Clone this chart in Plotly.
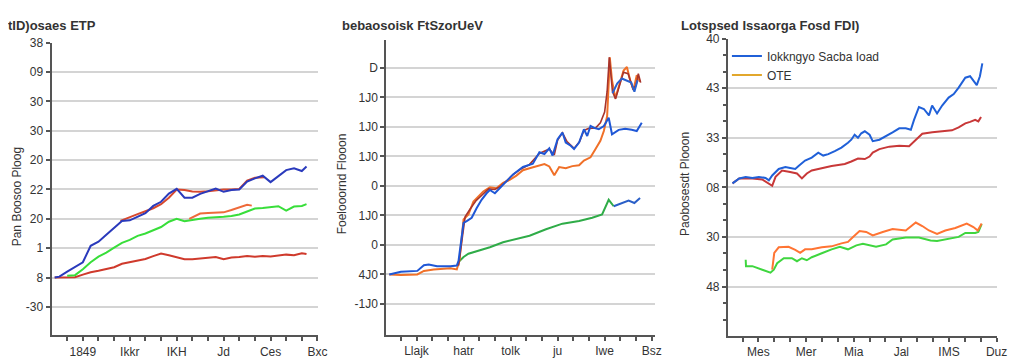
import plotly.graph_objects as go

W, H = 1024, 359

# ---------------- Panel 1 data ----------------
p1_x = [0.2, 0.5, 1.0, 1.5, 2.0, 2.5, 3.0, 3.5, 4.0, 4.5, 5.0, 5.5, 6.0, 6.5, 7.0, 7.5, 8.0, 8.5,
        9.0, 9.5, 10.0, 10.5, 11.0, 11.5, 12.0, 12.5, 13.0, 13.5, 14.0, 14.5, 15.0, 15.5, 16.0, 16.3]
p1_blue = [0, 0.03, 0.2, 0.37, 0.52, 1.08, 1.22, 1.46, 1.7, 1.93, 1.95, 2.08, 2.19, 2.44, 2.58, 2.86, 3.02, 2.72,
           2.72, 2.85, 2.94, 3.03, 2.92, 2.98, 3.0, 3.27, 3.38, 3.47, 3.25, 3.47, 3.66, 3.72, 3.63, 3.78]
p1_red_low = [0, 0, 0, 0.01, 0.1, 0.18, 0.23, 0.28, 0.35, 0.47, 0.53, 0.58, 0.63, 0.73, 0.82, 0.76, 0.7, 0.62,
              0.62, 0.65, 0.67, 0.7, 0.62, 0.68, 0.7, 0.73, 0.71, 0.73, 0.72, 0.76, 0.78, 0.76, 0.83, 0.8]
p1_green_x = [1.0, 1.5, 2.0, 2.5, 3.0, 3.5, 4.0, 4.5, 5.0, 5.5, 6.0, 6.5, 7.0, 7.5, 8.0, 8.5,
              9.0, 9.5, 10.0, 10.5, 11.0, 11.5, 12.0, 12.5, 13.0, 13.5, 14.0, 14.5, 15.0, 15.5, 16.0, 16.3]
p1_green = [0.06, 0.08, 0.28, 0.52, 0.71, 0.85, 1.02, 1.18, 1.28, 1.42, 1.5, 1.62, 1.72, 1.9, 2.0, 1.92,
            1.95, 2.0, 2.04, 2.05, 2.07, 2.1, 2.15, 2.25, 2.35, 2.37, 2.4, 2.43, 2.28, 2.42, 2.44, 2.5]
p1_red_up_x = [4.4, 5.0, 5.5, 6.0, 6.5, 7.0, 7.5, 8.0, 8.5, 9.0, 9.5, 10.0, 10.5, 11.0, 11.5, 12.0, 12.5, 13.0, 13.6]
p1_red_up = [1.93, 2.07, 2.16, 2.26, 2.36, 2.5, 2.72, 3.0, 2.98, 2.93, 2.92, 2.94, 2.98, 3.0, 3.0, 3.02, 3.3, 3.4, 3.42]
p1_orange_x = [8.8, 9.5, 10.0, 10.5, 11.0, 11.5, 12.0, 12.5, 12.8]
p1_orange = [2.0, 2.18, 2.2, 2.2, 2.22, 2.3, 2.38, 2.48, 2.45]

p1_yticks = ["-30", "8", "1", "20", "22", "20", "30", "30", "09", "38"]
p1_xticks = ["1849", "Ikkr", "IKH", "Jd", "Ces", "Bxc"]

# ---------------- Panel 2 data ----------------
p2_blue_x = [0.26, 1.0, 2.05, 2.47, 2.78, 3.31, 4.16, 4.57, 4.68, 5.0, 5.2, 5.52, 5.84, 6.15, 6.47,
             6.68, 7.0, 7.3, 7.73, 8.16, 8.79, 9.42, 9.84, 10.16, 10.47, 10.68, 11.0, 11.31, 11.52, 11.84,
             12.05, 12.37, 12.68, 12.89, 13.1, 13.31, 13.63, 13.95, 14.26, 14.47, 14.9, 15.31, 15.73, 16.05, 16.37]
p2_blue = [0, 0.09, 0.12, 0.31, 0.34, 0.28, 0.28, 0.3, 0.46, 1.75, 1.81, 1.92, 2.25, 2.53, 2.75,
           2.86, 2.75, 2.92, 3.14, 3.39, 3.64, 3.75, 4.14, 4.08, 4.27, 4.03, 4.58, 4.81, 4.47, 4.36,
           4.25, 4.47, 4.92, 4.69, 5.03, 4.97, 4.92, 5.03, 5.31, 4.75, 4.9, 4.94, 4.9, 4.86, 5.14]
p2_orange_x = [0.26, 1.0, 2.05, 2.47, 3.1, 4.16, 4.57, 4.74, 5.0, 5.31, 5.63, 5.94, 6.26, 6.68, 7.1,
               7.52, 7.94, 8.37, 8.79, 9.21, 9.84, 10.16, 10.47, 10.79, 11.1, 11.52, 11.94, 12.37, 12.68, 13.1,
               13.42, 13.73, 13.95, 14.16, 14.26, 14.33, 14.47, 14.68, 14.9, 15.21, 15.42, 15.63, 15.84, 16.05, 16.26]
p2_orange = [0, -0.02, 0, 0.12, 0.17, 0.21, 0.17, 0.48, 1.86, 2.03, 2.47, 2.64, 2.81, 2.95, 2.92,
             3.1, 3.2, 3.35, 3.53, 3.6, 3.7, 3.74, 3.66, 3.36, 3.64, 3.6, 3.67, 3.7, 3.86, 3.97,
             4.25, 4.53, 4.86, 5.36, 6.47, 7.36, 6.58, 5.97, 6.36, 6.91, 7.03, 6.58, 6.25, 6.75, 6.53]
p2_red_x = [4.68, 4.9, 5.1, 5.4, 5.8, 6.2, 6.6, 7.0, 7.4, 7.8, 8.2, 8.6, 9.2, 9.84, 10.47, 10.79, 11.0, 11.31,
            11.6, 12.05, 12.4, 12.68, 13.0, 13.42, 13.73, 14.0, 14.16, 14.3, 14.5, 14.7, 15.0, 15.2, 15.5,
            15.8, 16.0, 16.15, 16.3]
p2_red = [0.3, 1.2, 1.95, 2.2, 2.5, 2.7, 2.9, 2.88, 3.0, 3.2, 3.4, 3.55, 3.72, 4.1, 4.25, 4.05, 4.55, 4.8,
          4.5, 4.27, 4.5, 4.88, 4.95, 4.96, 5.14, 5.5, 6.2, 7.36, 6.2, 5.95, 6.5, 6.85, 6.8,
          6.3, 6.4, 6.8, 6.5]
p2_blue2_x = [14.5, 14.8, 15.1, 15.4, 15.7, 15.9, 16.1]
p2_blue2 = [6.14, 6.47, 6.64, 6.58, 6.5, 6.19, 6.58]
p2_green_x = [4.68, 5.0, 5.31, 6.05, 6.68, 7.52, 8.36, 8.79, 9.21, 10.26, 11.31, 12.37, 13.21, 13.84, 14.26, 14.58]
p2_green = [0.42, 0.59, 0.7, 0.81, 0.92, 1.09, 1.2, 1.28, 1.31, 1.53, 1.72, 1.81, 1.92, 2.03, 2.53, 2.31]
p2_tail_x = [14.58, 15.0, 15.53, 15.9, 16.26]
p2_tail = [2.31, 2.4, 2.5, 2.42, 2.59]

p2_yticks = ["-1J0", "4J0", "0", "1J0", "0", "1J0", "1J0", "1J0", "D", "1I0"]
p2_xticks = ["Llajk", "hatr", "tolk", "ju", "Iwe", "Bsz"]

# ---------------- Panel 3 data ----------------
p3_blue_x = [0.37, 0.79, 1.2, 1.62, 2.03, 2.45, 2.66, 2.87, 3.28, 3.7, 4.0, 4.32, 4.53, 4.94, 5.36,
             5.77, 6.08, 6.4, 6.81, 7.23, 7.64, 7.85, 8.06, 8.27, 8.48, 8.7, 9.0, 9.2, 9.62, 10.04,
             10.45, 10.87, 11.28, 11.6, 11.8, 12.11, 12.42, 12.74, 12.94, 13.25, 13.57, 13.98, 14.3, 14.61, 15.03,
             15.33, 15.54, 15.75, 15.95, 16.1]
p3_blue = [2.08, 2.18, 2.21, 2.19, 2.21, 2.19, 2.14, 2.24, 2.37, 2.41, 2.39, 2.37, 2.43, 2.54, 2.6,
           2.7, 2.64, 2.67, 2.73, 2.8, 2.9, 2.96, 3.06, 3.0, 3.09, 3.13, 3.06, 2.93, 2.96, 3.03,
           3.11, 3.19, 3.19, 3.16, 3.36, 3.62, 3.58, 3.45, 3.65, 3.49, 3.65, 3.81, 3.88, 4.01, 4.21,
           4.24, 4.14, 4.06, 4.24, 4.5]
p3_red_x = [0.37, 0.79, 1.2, 1.62, 2.24, 2.66, 2.87, 3.08, 3.49, 4.0, 4.43, 4.74, 5.05, 5.36, 5.99,
            6.61, 7.03, 7.44, 7.85, 8.27, 8.7, 9.0, 9.2, 9.62, 10.24, 10.87, 11.49, 11.91, 12.32, 12.95,
            13.57, 14.19, 14.61, 15.03, 15.33, 15.65, 15.85, 16.02]
p3_red = [2.08, 2.18, 2.18, 2.18, 2.16, 2.08, 2.03, 2.21, 2.34, 2.31, 2.28, 2.18, 2.28, 2.34, 2.39,
          2.43, 2.45, 2.47, 2.52, 2.58, 2.57, 2.62, 2.7, 2.77, 2.82, 2.84, 2.83, 2.96, 3.08, 3.11,
          3.13, 3.15, 3.21, 3.29, 3.32, 3.36, 3.33, 3.42]
p3_orange_x = [2.87, 3.0, 3.28, 3.9, 4.32, 4.63, 4.94, 5.36, 5.99, 6.61, 7.23, 7.64, 7.96, 8.37, 8.79,
               9.2, 9.83, 10.45, 11.28, 11.91, 12.32, 12.74, 13.25, 13.77, 14.4, 15.12, 15.54, 15.81, 16.06]
p3_orange = [0.34, 0.68, 0.79, 0.8, 0.74, 0.68, 0.75, 0.75, 0.79, 0.81, 0.87, 0.9, 1.0, 1.12, 1.1,
             1.03, 1.1, 1.16, 1.13, 1.29, 1.22, 1.13, 1.06, 1.13, 1.18, 1.27, 1.2, 1.13, 1.27]
p3_green_x = [1.2, 1.22, 1.62, 2.03, 2.45, 2.76, 2.97, 3.18, 3.6, 4.11, 4.43, 4.74, 5.05, 5.36, 5.99,
              6.61, 7.13, 7.64, 8.17, 8.58, 9.41, 10.04, 10.45, 11.28, 12.11, 12.84, 13.25, 13.98, 14.61, 15.03,
              15.65, 15.85, 16.06]
p3_green = [0.54, 0.41, 0.41, 0.36, 0.31, 0.28, 0.34, 0.47, 0.57, 0.57, 0.51, 0.57, 0.53, 0.59, 0.67,
            0.75, 0.8, 0.75, 0.83, 0.86, 0.8, 0.85, 0.95, 0.99, 0.99, 0.93, 0.92, 0.97, 1.0, 1.08,
            1.08, 1.1, 1.26]

p3_yticks = ["48", "30", "08", "33", "43", "40"]
p3_xticks = ["Mes", "Mer", "Mia", "Jal", "IMS", "Duz"]
p3_legend = ["Iokkngyo Sacba Ioad", "OTE"]

titles = ["tID)osaes ETP", "bebaosoisk FtSzorUeV", "Lotspsed Issaorga Fosd FDI)"]
ytitles = ["Pan Boosoo Ploog", "Foelooornd Flooon", "Paobosesdt Plooon"]

# ---------------- Figure ----------------
FONT = "Liberation Sans, Arial, sans-serif"
fig = go.Figure()

def add_line(x, y, color, axis, name=None, legend=False, width=2):
    fig.add_trace(go.Scatter(x=x, y=y, mode="lines", line=dict(color=color, width=width),
                             xaxis="x" + axis, yaxis="y" + axis, name=name or "",
                             showlegend=legend, hoverinfo="skip"))

# panel 1
add_line(p1_x, p1_red_low, "#cf3a2c", "")
add_line(p1_green_x, p1_green, "#38de3a", "")
add_line(p1_orange_x, p1_orange, "#ee6a3a", "")
add_line(p1_red_up_x, p1_red_up, "#d8492e", "")
add_line(p1_x, p1_blue, "#2a3abc", "")
# panel 2
add_line(p2_green_x, p2_green, "#2fac48", "2")
add_line(p2_tail_x, p2_tail, "#2a5fc8", "2")
add_line(p2_orange_x, p2_orange, "#f07028", "2")
add_line(p2_red_x, p2_red, "#a8342c", "2", width=1.6)
add_line(p2_blue_x, p2_blue, "#1f57d6", "2")
add_line(p2_blue2_x, p2_blue2, "#2a62d0", "2")
# panel 3
add_line(p3_green_x, p3_green, "#3fd63f", "3")
add_line(p3_orange_x, p3_orange, "#ff7433", "3")
add_line(p3_red_x, p3_red, "#c83838", "3")
add_line(p3_blue_x, p3_blue, "#2060d8", "3", name=p3_legend[0], legend=True)
fig.add_trace(go.Scatter(x=[None], y=[None], mode="lines", line=dict(color="#e2a72c", width=2),
                         xaxis="x3", yaxis="y3", name=p3_legend[1], showlegend=True))

def px(v):
    return v / W

def py(v):
    return 1 - v / H

axis_common = dict(showline=True, linecolor="#555555", linewidth=2, ticks="outside", ticklen=4,
                   tickwidth=1.5, tickcolor="#555555", zeroline=False,
                   tickfont=dict(family=FONT, size=12, color="#333333"))

panels = [
    dict(x0=44, x1=313, y0=28.3, y1=326.7, xr=[0, 17.03], yr=[-1.97, 8.0], yt=p1_yticks, xt=p1_xticks,
         yv=list(range(-1, 9))),
    dict(x0=382, x1=653, y0=25, y1=326, xr=[0.07, 17.19], yr=[-2.04, 7.96], yt=p2_yticks, xt=p2_xticks,
         yv=list(range(-1, 9))),
    dict(x0=727, x1=999, y0=24, y1=327, xr=[0.08, 17.04], yr=[-0.99, 5.0], yt=p3_yticks, xt=p3_xticks,
         yv=list(range(0, 6))),
]

layout = dict(width=W, height=H, margin=dict(l=0, r=0, t=0, b=0), paper_bgcolor="white",
              plot_bgcolor="white", font=dict(family=FONT, color="#333333"))
for i, p in enumerate(panels):
    sfx = "" if i == 0 else str(i + 1)
    xticktext = []
    for k in range(1, 18):
        xticktext.append(p["xt"][(k - 2) // 3] if (k - 2) % 3 == 0 else "")
    xa = dict(axis_common, domain=[px(p["x0"]), px(p["x1"])], range=p["xr"], anchor="y" + sfx,
              tickvals=list(range(1, 18)), ticktext=xticktext, showgrid=False)
    ya = dict(axis_common, domain=[py(p["y1"]), py(p["y0"])], range=p["yr"], anchor="x" + sfx,
              tickvals=p["yv"], ticktext=p["yt"], showgrid=True, gridcolor="#d4d4d4", gridwidth=1.5)
    if i == 2:
        ya["minor"] = dict(dtick=1 / 3, tick0=0, ticklen=3, ticks="outside", tickcolor="#555555",
                           showgrid=False)
    layout["xaxis" + sfx] = xa
    layout["yaxis" + sfx] = ya

layout["legend"] = dict(x=px(726), y=py(27), xanchor="left", yanchor="top", bgcolor="rgba(0,0,0,0)",
                        font=dict(family=FONT, size=12, color="#333333"), tracegroupgap=0)

anns = []
title_x = [-2, 335, 678]
for t, xx in zip(titles, title_x):
    anns.append(dict(text="<b>" + t + "</b>", x=px(xx), y=py(11), xref="paper", yref="paper",
                     xanchor="left", yanchor="middle", showarrow=False,
                     font=dict(family=FONT, size=13, color="#333333")))
ytitle_pos = [(9, 185), (337, 172), (683, 172)]
for t, (xx, yy) in zip(ytitles, ytitle_pos):
    anns.append(dict(text=t, x=px(xx), y=py(yy), xref="paper", yref="paper", textangle=-90,
                     xanchor="center", yanchor="middle", showarrow=False,
                     font=dict(family=FONT, size=12, color="#333333")))
layout["annotations"] = anns

fig.update_layout(**layout)
fig.write_html("out.html")
